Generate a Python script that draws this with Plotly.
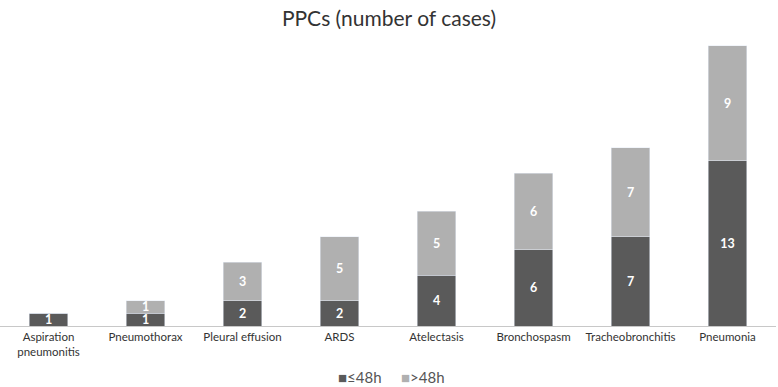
import plotly.graph_objects as go

categories = ["Aspiration<br>pneumonitis", "Pneumothorax", "Pleural effusion", "ARDS",
              "Atelectasis", "Bronchospasm", "Tracheobronchitis", "Pneumonia"]
le48 = [1, 1, 2, 2, 4, 6, 7, 13]
gt48 = [0, 1, 3, 5, 5, 6, 7, 9]
series_names = ["≤48h", ">48h"]
series_colors = ["#5a5a5a", "#b0b0b0"]

font_family = "Lato, 'Open Sans', sans-serif"

fig = go.Figure()
for vals, name, col in zip([le48, gt48], series_names, series_colors):
    fig.add_trace(go.Bar(
        x=categories, y=vals, name=name, marker_color=col,
        text=[str(v) if v else "" for v in vals], textposition="inside",
        insidetextanchor="middle", textangle=0, constraintext="none",
        textfont=dict(color="white", size=12.5, family=font_family, weight="bold"),
        showlegend=False,
    ))

# legend drawn as two text items (square glyph + series name)
for xpos, name, col in zip([0.433, 0.514], series_names, series_colors):
    fig.add_annotation(text=f'<span style="color:{col}">■</span>{name}',
                       xref="paper", yref="paper", x=xpos, y=-0.18,
                       xanchor="left", yanchor="middle", showarrow=False,
                       font=dict(size=15, color="#555555", family=font_family))

fig.update_layout(
    barmode="stack", bargap=0.6,
    width=778, height=387,
    margin=dict(l=0, r=2, t=40, b=61, autoexpand=False),
    paper_bgcolor="white", plot_bgcolor="white",
    font=dict(family=font_family, color="#404040"),
    title=dict(text="PPCs (number of cases)", x=0.5, xanchor="center", y=0.952, yanchor="middle",
               font=dict(size=21, color="#333333", family=font_family)),
    uniformtext=dict(minsize=11, mode="show"),
)
fig.update_xaxes(showline=True, linecolor="#c8c8c8", linewidth=1, ticks="", automargin=False,
                 tickfont=dict(size=11.5, color="#333333"), range=[-0.5, 7.5])
fig.update_yaxes(visible=False, range=[0, 22.47], automargin=False)

fig.write_html("out.html", config={"displayModeBar": False},
               post_script="document.body.style.margin='0';document.body.style.overflow='hidden';")
